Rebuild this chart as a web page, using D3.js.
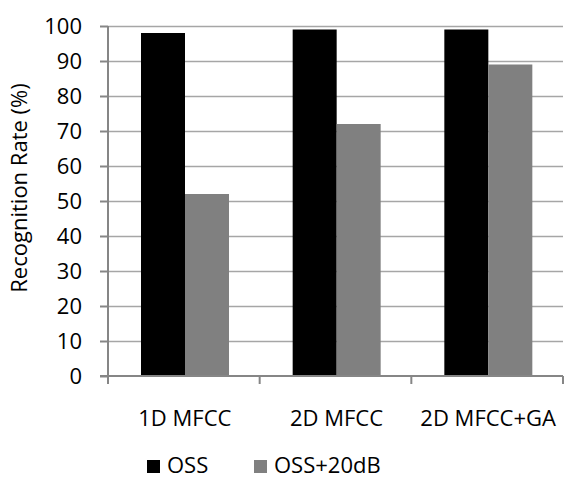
<!DOCTYPE html>
<html lang="en">

<head>
  <meta charset="utf-8">
  <script src="https://d3js.org/d3.v7.min.js"></script>
  <style>
    body {
      margin: 0;
      background: white;
    }

    text {
      font-family: "Open Sans", sans-serif;
      font-size: 22px;
      fill: black;
    }

    .grid line {
      stroke: #a6a6a6;
      stroke-width: 1.5;
    }

    .axisline {
      stroke: #868686;
      stroke-width: 2;
    }
  </style>
</head>

<body>
  <script>
    // data
    var categories = ["1D MFCC", "2D MFCC", "2D MFCC+GA"];
    var series = ["OSS", "OSS+20dB"];
    var ossValues = [98, 99, 99];
    var noisyValues = [52, 72, 89];
    var yTicks = [0, 10, 20, 30, 40, 50, 60, 70, 80, 90, 100];
    var colors = ["#000000", "#808080"];

    var w = 564,
      h = 479,
      plotLeft = 108,
      plotRight = 563,
      plotTop = 26,
      plotBottom = 376;

    var svg = d3.select("body")
      .append("svg")
      .attr("width", w)
      .attr("height", h);

    var y = d3.scaleLinear()
      .domain([0, 100])
      .range([plotBottom, plotTop]);

    var x0 = d3.scaleBand()
      .domain(categories)
      .range([plotLeft, plotRight])
      .padding(0);

    var x1 = d3.scaleBand()
      .domain(series)
      .range([33, 121]);

    var color = d3.scaleOrdinal()
      .domain(series)
      .range(colors);

    // gridlines
    svg.append("g")
      .attr("class", "grid")
      .attr("transform", "translate(" + plotLeft + ",0)")
      .call(d3.axisLeft(y).tickValues(yTicks.slice(1)).tickSize(-(plotRight - plotLeft)).tickFormat(""))
      .call(function (g) { g.select(".domain").remove(); });

    // y axis with labels
    var yAxis = svg.append("g")
      .attr("transform", "translate(" + plotLeft + ",0)")
      .call(d3.axisLeft(y).tickValues(yTicks).tickSize(8).tickPadding(18));
    yAxis.select(".domain").remove();
    yAxis.selectAll(".tick line").attr("class", "axisline").attr("stroke", null);
    yAxis.selectAll(".tick text")
      .attr("font-family", null)
      .attr("font-size", null)
      .attr("fill", null);

    // bars
    var rows = categories.map(function (c, i) {
      return { cat: c, values: [ossValues[i], noisyValues[i]] };
    });

    var groups = svg.selectAll("g.group")
      .data(rows)
      .enter()
      .append("g")
      .attr("class", "group")
      .attr("transform", function (d) {
        return "translate(" + x0(d.cat) + ",0)";
      });

    groups.selectAll("rect")
      .data(function (d) {
        return series.map(function (s, j) { return { key: s, value: d.values[j] }; });
      })
      .enter()
      .append("rect")
      .attr("x", function (d) { return x1(d.key); })
      .attr("width", x1.bandwidth())
      .attr("y", function (d) { return y(d.value); })
      .attr("height", function (d) { return plotBottom - y(d.value); })
      .attr("fill", function (d) { return color(d.key); });

    // axis lines
    svg.append("line")
      .attr("class", "axisline")
      .attr("x1", plotLeft).attr("x2", plotLeft)
      .attr("y1", plotTop).attr("y2", plotBottom + 8);
    svg.append("line")
      .attr("class", "axisline")
      .attr("x1", plotLeft - 8).attr("x2", plotRight)
      .attr("y1", plotBottom).attr("y2", plotBottom);

    var bounds = categories.map(function (c) { return x0(c); }).slice(1);
    bounds.push(plotRight);
    svg.selectAll("line.xtick")
      .data(bounds)
      .enter()
      .append("line")
      .attr("class", "axisline xtick")
      .attr("x1", function (d) { return d; })
      .attr("x2", function (d) { return d; })
      .attr("y1", plotBottom)
      .attr("y2", plotBottom + 8);

    // category labels
    svg.selectAll("text.cat")
      .data(categories)
      .enter()
      .append("text")
      .attr("class", "cat")
      .attr("x", function (d) { return x0(d) + x0.bandwidth() / 2 + 1; })
      .attr("y", 426)
      .attr("text-anchor", "middle")
      .text(function (d) { return d; });

    // y title
    svg.append("text")
      .attr("transform", "translate(27,188) rotate(-90)")
      .attr("text-anchor", "middle")
      .text("Recognition Rate (%)");

    // legend
    var legendX = [147, 254];
    var legend = svg.selectAll("g.legend")
      .data(series)
      .enter()
      .append("g")
      .attr("class", "legend")
      .attr("transform", function (d, i) {
        return "translate(" + legendX[i] + ",460)";
      });
    legend.append("rect")
      .attr("width", 13)
      .attr("height", 13)
      .attr("fill", function (d) { return color(d); });
    legend.append("text")
      .attr("x", 20)
      .attr("y", 13)
      .text(function (d) { return d; });
  </script>
</body>

</html>
